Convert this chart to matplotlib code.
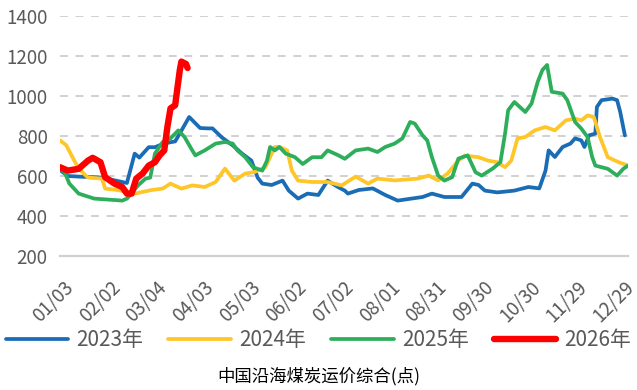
import matplotlib.pyplot as plt

plt.rcParams['font.family'] = ['Noto Sans CJK SC', 'DejaVu Sans']

# day of year, value
days_2023 = [1, 6, 13, 28, 41, 44, 49, 52, 58, 62, 68, 75, 78, 84, 91, 96, 99, 105, 112, 118, 124, 128,
             131, 137, 144, 148, 154, 160, 167, 173, 180, 184, 186, 193, 202, 210, 218, 225, 234, 240,
             248, 259, 266, 270, 274, 282, 293, 302, 309, 313, 315, 319, 324, 329, 332, 336, 338, 341,
             345, 346, 349, 356, 359, 361, 364]
vals_2023 = [630, 600, 597, 592, 570, 565, 712, 692, 744, 744, 763, 773, 813, 895, 840, 838, 838, 793,
             753, 712, 677, 592, 562, 555, 577, 527, 487, 512, 505, 577, 543, 527, 512, 530, 538, 505,
             477, 485, 495, 512, 495, 495, 562, 555, 527, 518, 527, 545, 538, 627, 728, 695, 745, 762,
             788, 778, 745, 803, 812, 945, 979, 987, 979, 920, 803]

days_2024 = [1, 5, 9, 13, 19, 28, 30, 38, 49, 60, 67, 72, 79, 86, 94, 101, 107, 113, 120, 126, 133,
             139, 142, 147, 150, 154, 163, 173, 182, 191, 199, 205, 216, 231, 238, 244, 250, 257, 261,
             270, 276, 282, 287, 291, 295, 300, 306, 313, 319, 326, 332, 336, 340, 344, 348, 353, 360,
             366]
vals_2024 = [778, 754, 694, 637, 592, 587, 537, 530, 512, 530, 537, 562, 537, 553, 545, 570, 637, 577,
             612, 620, 644, 745, 745, 728, 627, 577, 570, 570, 553, 597, 562, 587, 578, 587, 602, 578,
             612, 677, 702, 694, 677, 669, 644, 677, 788, 795, 828, 845, 828, 878, 887, 878, 903, 895,
             795, 694, 669, 652]

days_2025 = [1, 4, 7, 13, 23, 41, 44, 47, 51, 56, 59, 62, 67, 72, 77, 81, 86, 88, 92, 94, 101, 107,
             112, 115, 120, 125, 131, 134, 136, 139, 142, 146, 152, 157, 163, 169, 173, 180, 184, 191,
             199, 205, 210, 216, 221, 226, 229, 234, 237, 240, 244, 248, 253, 257, 263, 268, 272, 279,
             284, 287, 289, 293, 300, 304, 308, 311, 314, 317, 324, 327, 332, 336, 340, 343, 345, 353,
             359, 363, 366]
vals_2025 = [640, 619, 562, 512, 487, 477, 487, 512, 552, 587, 592, 712, 770, 788, 828, 795, 728, 703,
             720, 728, 762, 770, 762, 728, 694, 644, 627, 677, 745, 728, 745, 712, 694, 660, 694, 694,
             728, 703, 686, 728, 737, 720, 745, 762, 788, 870, 862, 803, 778, 694, 602, 577, 594, 687,
             703, 619, 602, 637, 669, 812, 929, 970, 920, 962, 1071, 1130, 1155, 1021, 1012, 979, 870,
             837, 795, 694, 652, 636, 602, 636, 652]

days_2026 = [1, 6, 13, 19, 22, 27, 30, 36, 41, 44, 47, 50, 54, 58, 62, 65, 68, 70, 72, 75, 76, 78, 79,
             82, 83]
vals_2026 = [644, 627, 636, 677, 691, 669, 594, 562, 545, 512, 512, 587, 612, 652, 669, 703, 728, 845,
             938, 954, 1013, 1130, 1172, 1160, 1140]

tick_days = [3, 33, 63, 93, 123, 153, 183, 213, 243, 273, 303, 333, 363]
tick_labels = ['01/03', '02/02', '03/04', '04/03', '05/03', '06/02', '07/02', '08/01', '08/31',
               '09/30', '10/30', '11/29', '12/29']
y_ticks = [200, 400, 600, 800, 1000, 1200, 1400]

fig = plt.figure(figsize=(6.37, 3.90), dpi=100)
ax = fig.add_axes([60 / 637, 1 - 256 / 390, 568 / 637, 240 / 390])

kw = dict(solid_capstyle='round', solid_joinstyle='round')
ax.plot(days_2023, vals_2023, color='#1A6DB5', lw=2.7, label='2023年', **kw)
ax.plot(days_2024, vals_2024, color='#FFC629', lw=2.7, label='2024年', **kw)
ax.plot(days_2025, vals_2025, color='#2DAE5B', lw=2.7, label='2025年', **kw)
ax.plot(days_2026, vals_2026, color='#FF0000', lw=4.6, label='2026年', **kw)

ax.set_xlim(1, 366)
ax.set_ylim(200, 1400)
ax.set_yticks(y_ticks)
ax.set_xticks(tick_days)
ax.set_xticklabels(tick_labels, rotation=45, ha='right', rotation_mode='anchor')
ax.tick_params(axis='both', length=0, labelsize=13.5, colors='#595959')
ax.tick_params(axis='y', pad=9)
ax.tick_params(axis='x', pad=15)

for v in y_ticks[1:]:
    ax.axhline(v, color='#D0D0D0', lw=1.4, ls=(0, (4, 4)), zorder=0)
for s in ['top', 'right', 'left']:
    ax.spines[s].set_visible(False)
ax.spines['bottom'].set_color('#D0D0D0')
ax.spines['bottom'].set_linewidth(1.6)

fig.legend(loc='center', bbox_to_anchor=(0.5, 1 - 340 / 390), ncol=4, frameon=False,
           fontsize=15, handlelength=3.0, handletextpad=0.4, columnspacing=1.2,
           labelcolor='#595959')
fig.text(0.5, 1 - 376 / 390, '中国沿海煤炭运价综合(点)', ha='center', va='center', fontsize=12.5,
         color='black')

fig.savefig('out.png', dpi=100)
